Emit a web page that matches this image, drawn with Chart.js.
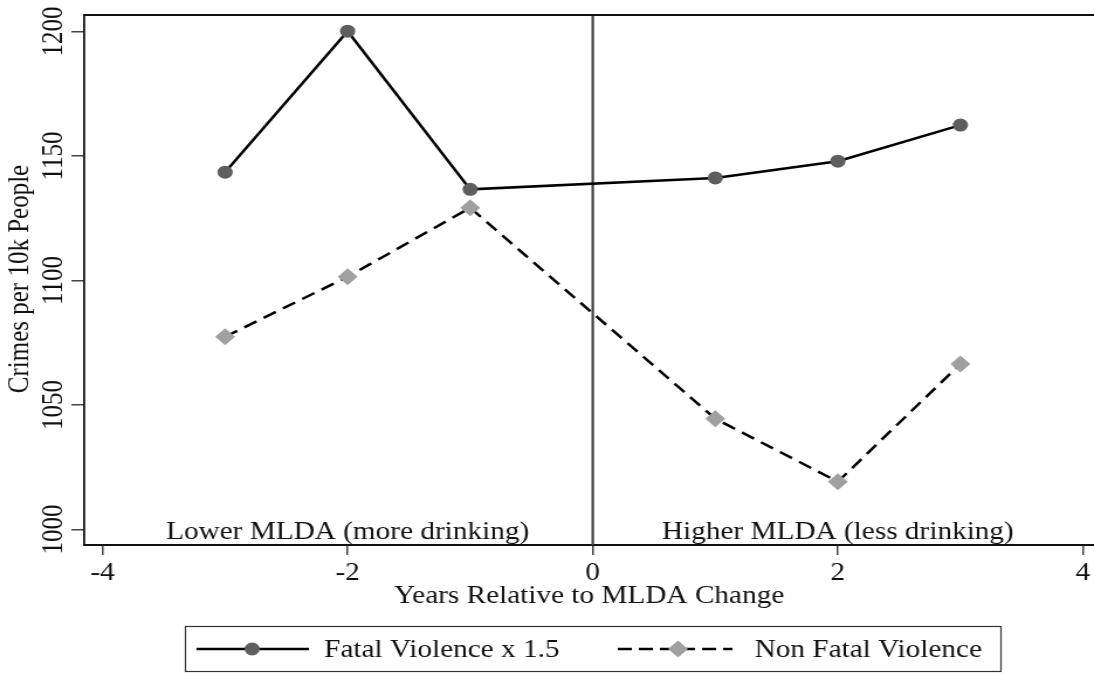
<!DOCTYPE html>
<html>
<head>
<meta charset="utf-8">
<script src="https://cdn.jsdelivr.net/npm/chart.js@4.4.1/dist/chart.umd.min.js"></script>
<style>
html, body { margin: 0; padding: 0; background: #fff; }
#chart { display: block; }
</style>
</head>
<body>
<!-- the reference is a horizontally stretched Stata graph: draw narrow, show wide -->
<canvas id="chart" width="935" height="673" style="width:1094px;height:673px"></canvas>
<script>
// --- DATA ---
const years = [-3, -2, -1, 1, 2, 3];
const fatalValues = [1143.5, 1200.1, 1136.6, 1141.2, 1147.9, 1162.4];
const nonFatalValues = [1077.4, 1101.5, 1129.2, 1044.5, 1019.2, 1066.5];
const xTicks = [-4, -2, 0, 2, 4];
const yTicks = [1000, 1050, 1100, 1150, 1200];
const seriesLabels = ['Fatal Violence x 1.5', 'Non Fatal Violence'];
const noteX = [-2, 2];
const noteText = ['Lower MLDA (more drinking)', 'Higher MLDA (less drinking)'];
const changeYear = 0;

const FONT = "'Liberation Serif', 'Times New Roman', serif";
const INK = '#111';

function toPoints(vals) {
    return years.map((yr, i) => ({ x: yr, y: vals[i] }));
}

// --- EXTRAS: vertical line, notes, rotated y labels, legend box ---
const stataExtras = {
    id: 'stataExtras',
    beforeDatasetsDraw(chart) {
        const { ctx, chartArea: a, scales: { x } } = chart;
        ctx.save();
        const px = x.getPixelForValue(changeYear);
        ctx.strokeStyle = '#444';
        ctx.lineWidth = 2.2;
        ctx.beginPath();
        ctx.moveTo(px, a.top);
        ctx.lineTo(px, a.bottom);
        ctx.stroke();

        ctx.fillStyle = INK;
        ctx.font = `25px ${FONT}`;
        ctx.textAlign = 'center';
        ctx.textBaseline = 'alphabetic';
        noteX.forEach((v, i) => ctx.fillText(noteText[i], x.getPixelForValue(v), a.bottom - 6));
        ctx.restore();
    },
    afterDraw(chart) {
        const { ctx, chartArea: a, scales: { y } } = chart;
        ctx.save();
        // top frame line
        ctx.strokeStyle = INK;
        ctx.lineWidth = 2;
        ctx.beginPath();
        ctx.moveTo(a.left, a.top);
        ctx.lineTo(chart.width, a.top);
        ctx.stroke();

        // y tick labels, rotated like Stata
        ctx.fillStyle = INK;
        ctx.font = `25px ${FONT}`;
        ctx.textAlign = 'center';
        ctx.textBaseline = 'alphabetic';
        yTicks.forEach(v => {
            ctx.save();
            ctx.translate(53, y.getPixelForValue(v));
            ctx.rotate(-Math.PI / 2);
            ctx.fillText(String(v), 0, 0);
            ctx.restore();
        });
        // y title
        ctx.save();
        ctx.translate(24, 279);
        ctx.rotate(-Math.PI / 2);
        ctx.fillText('Crimes per 10k People', 0, 0);
        ctx.restore();

        // legend
        ctx.strokeStyle = '#333';
        ctx.lineWidth = 1.2;
        ctx.strokeRect(158.5, 626.5, 697, 45);
        const slots = [
            { x0: 168, x1: 264, mark: 215.5, text: 277 },
            { x0: 528, x1: 626, mark: 579.5, text: 645 }
        ];
        const ly = 649;
        chart.data.datasets.forEach((ds, i) => {
            const s = slots[i];
            ctx.save();
            ctx.strokeStyle = ds.borderColor;
            ctx.lineWidth = ds.borderWidth;
            ctx.setLineDash(ds.legendDash || []);
            ctx.beginPath();
            ctx.moveTo(s.x0, ly);
            ctx.lineTo(s.x1, ly);
            ctx.stroke();
            ctx.restore();
            ctx.fillStyle = ds.pointBackgroundColor;
            ctx.strokeStyle = ds.pointBorderColor;
            Chart.helpers.drawPoint(ctx, { pointStyle: ds.pointStyle, radius: ds.pointRadius, rotation: 0, borderWidth: 0 }, s.mark, ly);
            ctx.fillStyle = INK;
            ctx.textAlign = 'left';
            ctx.textBaseline = 'alphabetic';
            ctx.fillText(ds.label, s.text, ly + 8);
        });
        ctx.restore();
    }
};

// --- CHART ---
new Chart(document.getElementById('chart'), {
    type: 'line',
    data: {
        datasets: [
            {
                label: seriesLabels[0],
                data: toPoints(fatalValues),
                borderColor: '#000',
                borderWidth: 2.5,
                pointStyle: 'circle',
                pointRadius: 6.5,
                pointBackgroundColor: '#5e5e5e',
                pointBorderColor: '#5e5e5e',
                pointBorderWidth: 0,
                tension: 0
            },
            {
                label: seriesLabels[1],
                data: toPoints(nonFatalValues),
                borderColor: '#000',
                borderWidth: 2.5,
                borderDash: [12, 7],
                legendDash: [12, 6],
                pointStyle: 'rectRot',
                pointRadius: 8.5,
                pointBackgroundColor: '#a0a0a0',
                pointBorderColor: '#a0a0a0',
                pointBorderWidth: 0,
                tension: 0
            }
        ]
    },
    options: {
        responsive: false,
        animation: false,
        devicePixelRatio: 1,
        layout: { autoPadding: false, padding: { top: 15, left: 0, right: 0, bottom: 0 } },
        plugins: { legend: { display: false }, tooltip: { enabled: false } },
        scales: {
            x: {
                type: 'linear',
                min: -4.149,
                max: 4.09,
                afterBuildTicks: s => { s.ticks = xTicks.map(v => ({ value: v })); },
                afterFit: s => { s.height = 128; s.paddingLeft = 0; s.paddingRight = 0; },
                grid: { drawOnChartArea: false, drawTicks: true, tickLength: 10, color: '#444', lineWidth: 1.5 },
                border: { display: true, color: INK, width: 2 },
                ticks: {
                    font: { family: FONT, size: 25, lineHeight: 1.2 },
                    color: INK,
                    padding: 3,
                    maxRotation: 0,
                    autoSkip: false,
                    callback: v => String(v)
                },
                title: {
                    display: true,
                    text: 'Years Relative to MLDA Change',
                    font: { family: FONT, size: 25, lineHeight: 1.2 },
                    color: INK,
                    padding: { top: 0, bottom: 62 }
                }
            },
            y: {
                type: 'linear',
                min: 993.8,
                max: 1206.6,
                afterBuildTicks: s => { s.ticks = yTicks.map(v => ({ value: v })); },
                afterFit: s => { s.width = 72; s.paddingTop = 0; s.paddingBottom = 0; },
                grid: { drawOnChartArea: false, drawTicks: true, tickLength: 11, color: '#444', lineWidth: 1.5 },
                border: { display: true, color: INK, width: 1.8 },
                ticks: { display: false }
            }
        }
    },
    plugins: [stataExtras]
});
</script>
</body>
</html>
